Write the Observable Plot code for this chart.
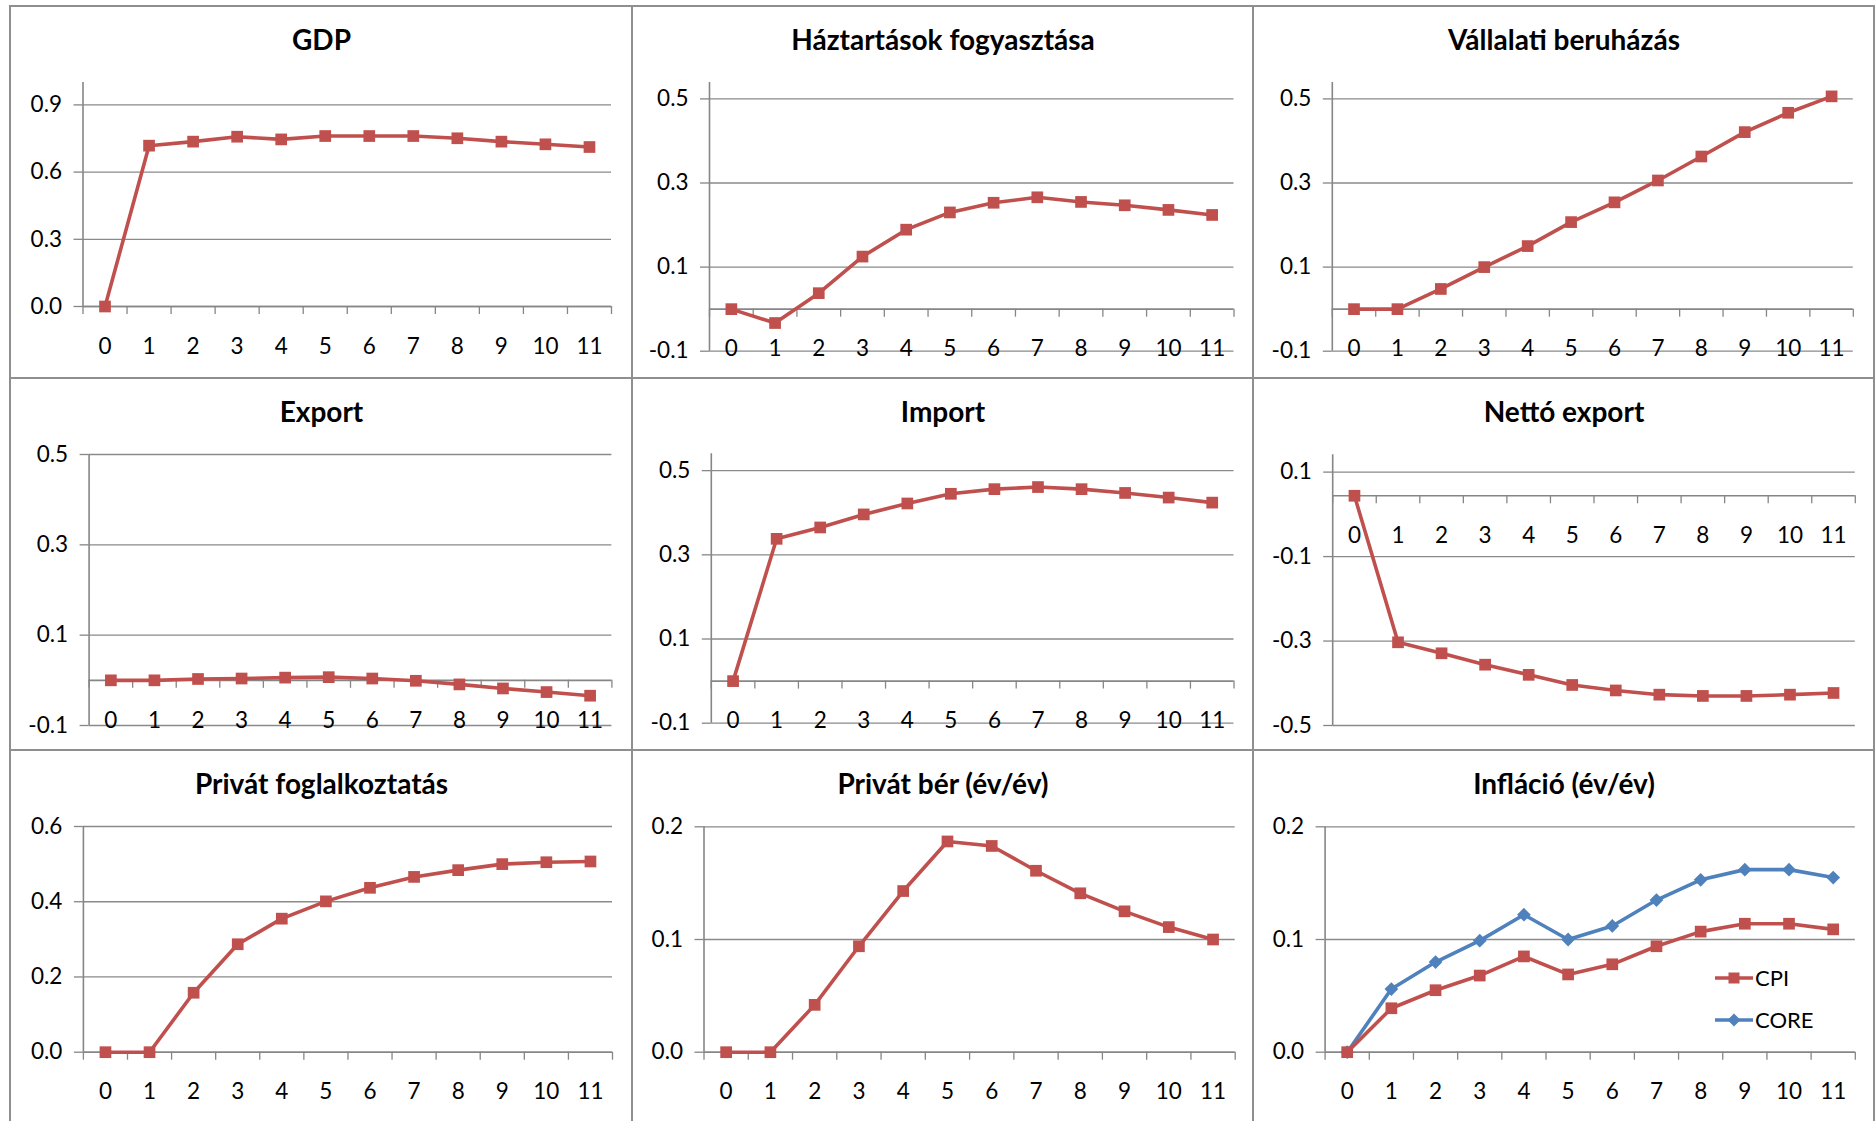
<!DOCTYPE html>
<html>
<head>
<meta charset="utf-8">
<script src="https://cdn.jsdelivr.net/npm/d3@7"></script>
<script src="https://cdn.jsdelivr.net/npm/@observablehq/plot@0.6"></script>
<style>
  html, body { margin: 0; padding: 0; background: #fff; }
  #board { position: relative; width: 1876px; height: 1121px; overflow: hidden;
           font-family: Lato, "Open Sans", "DejaVu Sans", sans-serif; }
  .chart { position: absolute; }
  .frame { position: absolute; box-sizing: border-box; border: 2px solid #8f8f8f; pointer-events: none; }
  .legend { position: absolute; font-size: 22px; color: #000; line-height: 1; }
  .legend div { display: flex; align-items: center; height: 42px; }
  .legend svg { margin-right: 2px; }
</style>
</head>
<body>
<div id="board"></div>
<script>
// Quarters after the shock
const periods = [0, 1, 2, 3, 4, 5, 6, 7, 8, 9, 10, 11];
const periodLabels = ["0", "1", "2", "3", "4", "5", "6", "7", "8", "9", "10", "11"];

// Impulse responses
const gdp      = [0, 0.718, 0.736, 0.758, 0.746, 0.761, 0.761, 0.761, 0.751, 0.736, 0.724, 0.712];
const haztart  = [0, -0.033, 0.038, 0.125, 0.189, 0.230, 0.253, 0.266, 0.255, 0.247, 0.236, 0.224];
const beruhaz  = [0, 0, 0.048, 0.100, 0.150, 0.207, 0.254, 0.306, 0.363, 0.421, 0.467, 0.506];
const exportS  = [0, 0, 0.003, 0.004, 0.006, 0.007, 0.004, -0.001, -0.009, -0.018, -0.026, -0.034];
const importS  = [0, 0.338, 0.365, 0.396, 0.422, 0.445, 0.456, 0.461, 0.456, 0.447, 0.436, 0.424];
const netto    = [0, -0.347, -0.373, -0.400, -0.424, -0.448, -0.461, -0.471, -0.474, -0.474, -0.471, -0.467];
const foglalk  = [0, 0, 0.158, 0.287, 0.355, 0.401, 0.437, 0.466, 0.484, 0.500, 0.505, 0.507];
const ber      = [0, 0, 0.042, 0.094, 0.143, 0.187, 0.183, 0.161, 0.141, 0.125, 0.111, 0.100];
const cpi      = [0, 0.039, 0.055, 0.068, 0.085, 0.069, 0.078, 0.094, 0.107, 0.114, 0.114, 0.109];
const core     = [0, 0.056, 0.080, 0.099, 0.122, 0.100, 0.112, 0.135, 0.153, 0.162, 0.162, 0.155];

// Value-axis tick values of each panel
const ticksGdp     = [0, 0.3, 0.6, 0.9];
const ticksHaztart = [-0.1, 0.1, 0.3, 0.5];
const ticksBeruhaz = [-0.1, 0.1, 0.3, 0.5];
const ticksExport  = [-0.1, 0.1, 0.3, 0.5];
const ticksImport  = [-0.1, 0.1, 0.3, 0.5];
const ticksNetto   = [0.056, -0.144, -0.344, -0.544];
const ticksFoglalk = [0, 0.2, 0.4, 0.6];
const ticksBer     = [0, 0.1, 0.2];
const ticksInfl    = [0, 0.1, 0.2];

// Series names
const seriesCpi = "CPI";
const seriesCore = "CORE";

// Styling
const RED = "#C0504D";
const BLUE = "#4F81BD";
const GRID = "#8a8a8a";
const AXIS = "#868686";
const FONT = "Lato, 'Open Sans', 'DejaVu Sans', sans-serif";
const TICK_SIZE = 22.5;
const TITLE_SIZE = 28;

// Panel grid edges (page pixels)
const colEdges = [[10, 632], [632, 1253], [1253, 1874]];
const rowEdges = [[6, 378], [378, 750], [750, 1123]];

const toRows = (values) => periods.map((t, i) => ({t, v: values[i]}));

// area: [left, top, right, bottom] of the plotting area on the page
const panels = [
  {title: "GDP", col: 0, row: 0, area: [82.5, 82, 611, 306], domain: [0, 1.0], ticks: ticksGdp,
   series: [{values: gdp, color: RED, symbol: "square"}]},
  {title: "Háztartások fogyasztása", col: 1, row: 0, area: [709, 82, 1233.5, 350.7], domain: [-0.1, 0.539], ticks: ticksHaztart,
   series: [{values: haztart, color: RED, symbol: "square"}]},
  {title: "Vállalati beruházás", col: 2, row: 0, area: [1331.8, 82, 1852.8, 350.7], domain: [-0.1, 0.539], ticks: ticksBeruhaz,
   series: [{values: beruhaz, color: RED, symbol: "square"}]},
  {title: "Export", col: 0, row: 1, area: [88.6, 454, 611.4, 725], domain: [-0.1, 0.5], ticks: ticksExport,
   series: [{values: exportS, color: RED, symbol: "square"}]},
  {title: "Import", col: 1, row: 1, area: [710.8, 453.3, 1233.5, 722.7], domain: [-0.1, 0.54], ticks: ticksImport,
   series: [{values: importS, color: RED, symbol: "square"}]},
  {title: "Nettó export", col: 2, row: 1, area: [1332.2, 454.3, 1854.8, 725], domain: [-0.544, 0.097], ticks: ticksNetto,
   series: [{values: netto, color: RED, symbol: "square"}]},
  {title: "Privát foglalkoztatás", col: 0, row: 2, area: [82.9, 826, 612, 1051.7], domain: [0, 0.6], ticks: ticksFoglalk,
   series: [{values: foglalk, color: RED, symbol: "square"}]},
  {title: "Privát bér (év/év)", col: 1, row: 2, area: [703.5, 826.3, 1234.7, 1051.7], domain: [0, 0.2], ticks: ticksBer,
   series: [{values: ber, color: RED, symbol: "square"}]},
  {title: "Infláció (év/év)", col: 2, row: 2, area: [1324.6, 826.3, 1854.8, 1051.7], domain: [0, 0.2], ticks: ticksInfl,
   series: [{values: core, color: BLUE, symbol: "diamond2"}, {values: cpi, color: RED, symbol: "square"}],
   legend: [{name: seriesCpi, color: RED, symbol: "square"}, {name: seriesCore, color: BLUE, symbol: "diamond"}]}
];

// Category boundaries for the small ticks under the horizontal axis
const bounds = d3.range(-0.5, 12, 1);

const board = document.getElementById("board");

function drawPanel(p) {
  const [x0, x1] = colEdges[p.col];
  const [y0, y1] = rowEdges[p.row];
  const W = x1 - x0, H = y1 - y0;
  const [pl, pt, pr, pb] = p.area;
  const ml = pl - x0, mt = pt - y0, mr = x1 - pr, mb = y1 - pb;

  const marks = [
    Plot.gridY(p.ticks, {stroke: GRID, strokeOpacity: 1, strokeWidth: 1.3}),
    Plot.axisY({ticks: p.ticks, tickFormat: (d) => d.toFixed(1), tickSize: 9, tickPadding: 12, label: null,
                stroke: AXIS, strokeWidth: 1.3, fill: "#000", fontSize: TICK_SIZE}),
    Plot.ruleX([-0.5], {stroke: AXIS, strokeWidth: 1.6}),
    Plot.ruleY([0], {stroke: AXIS, strokeWidth: 1.6}),
    Plot.ruleX(bounds, {x: (d) => d, y1: () => 0, y2: () => 0, insetBottom: -8, stroke: AXIS, strokeWidth: 1.3}),
    Plot.text(periods, {x: (d) => d, y: () => 0, dy: 40, text: (d) => periodLabels[d], fill: "#000", fontSize: TICK_SIZE})
  ];
  for (const s of p.series) {
    const rows = toRows(s.values);
    marks.push(Plot.line(rows, {x: "t", y: "v", stroke: s.color, strokeWidth: 3.6}));
    marks.push(Plot.dot(rows, {x: "t", y: "v", symbol: s.symbol, fill: s.color, stroke: "none",
                               r: s.symbol === "square" ? 6.6 : 6.2}));
  }
  marks.push(Plot.text([p.title], {frameAnchor: "top-left", dx: W / 2 - ml, dy: 43.5 - mt,
                                   text: (d) => d, lineAnchor: "bottom", textAnchor: "middle",
                                   fontWeight: "bold", fontSize: TITLE_SIZE, fill: "#000"}));

  const svg = Plot.plot({
    width: W, height: H,
    marginLeft: ml, marginRight: mr, marginTop: mt, marginBottom: mb,
    x: {type: "linear", domain: [-0.5, 11.5], axis: null},
    y: {type: "linear", domain: p.domain},
    style: {fontFamily: FONT, fontSize: TICK_SIZE + "px", color: "#000", background: "transparent", overflow: "visible"},
    marks
  });
  const wrap = document.createElement("div");
  wrap.className = "chart";
  wrap.style.left = x0 + "px";
  wrap.style.top = y0 + "px";
  wrap.appendChild(svg);
  board.appendChild(wrap);

  if (p.legend) {
    const lg = document.createElement("div");
    lg.className = "legend";
    lg.style.left = "1715px";
    lg.style.top = (978 - 21) + "px";
    for (const item of p.legend) {
      const row = document.createElement("div");
      const mark = item.symbol === "square"
        ? `<rect x="13.5" y="1.5" width="11" height="11" fill="${item.color}"/>`
        : `<path d="M19 0.5 L25.5 7 L19 13.5 L12.5 7 Z" fill="${item.color}"/>`;
      row.innerHTML = `<svg width="38" height="14" viewBox="0 0 38 14"><line x1="0" y1="7" x2="38" y2="7" stroke="${item.color}" stroke-width="3.5"/>${mark}</svg><span>${item.name}</span>`;
      lg.appendChild(row);
    }
    board.appendChild(lg);
  }

  const frame = document.createElement("div");
  frame.className = "frame";
  frame.style.left = (x0 - 1) + "px";
  frame.style.top = (y0 - 1) + "px";
  frame.style.width = (W + 2) + "px";
  frame.style.height = (H + 2) + "px";
  board.appendChild(frame);
}

panels.forEach(drawPanel);
</script>
</body>
</html>
